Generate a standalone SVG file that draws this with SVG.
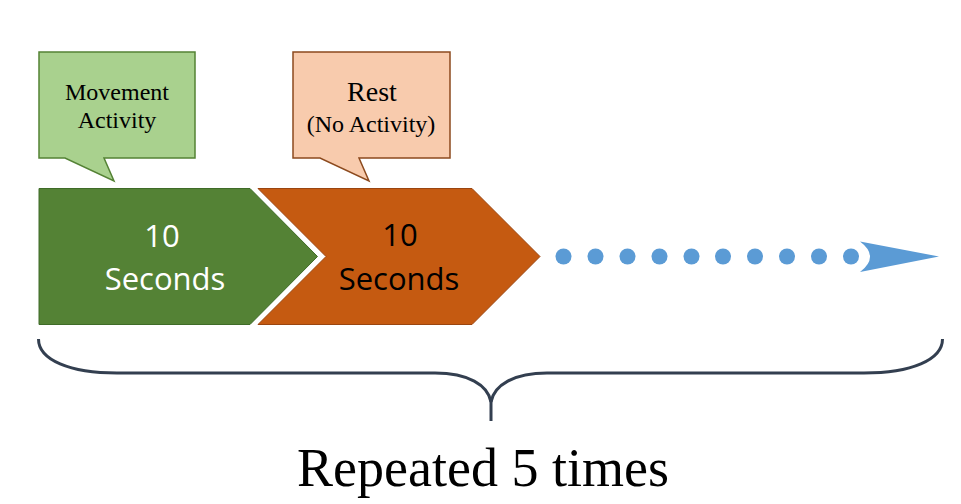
<svg xmlns="http://www.w3.org/2000/svg" width="961" height="504" viewBox="0 0 961 504">
  <style>
    .serif { font-family: "Liberation Serif", "Times New Roman", serif; fill: #000; text-anchor: middle; }
    .sans { font-family: "Open Sans", "Liberation Sans", sans-serif; font-size: 31px; text-anchor: middle; }
    .brace { fill: none; stroke: #333F50; stroke-width: 3; stroke-linecap: butt; }
    .dot { fill: #5B9BD5; }
  </style>
  <rect width="961" height="504" fill="#ffffff"/>

  <!-- callout: movement -->
  <g id="callout-movement">
    <path d="M39,52 H195 V158 H104 L114,181 L65,158 H39 Z" fill="#A9D18E" stroke="#548235" stroke-width="1.5"/>
    <text class="serif" x="117" y="100" font-size="24">Movement</text>
    <text class="serif" x="117" y="128" font-size="24">Activity</text>
  </g>

  <!-- callout: rest -->
  <g id="callout-rest">
    <path d="M293,52 H450 V158 H359 L369,181 L320,158 H293 Z" fill="#F8CBAD" stroke="#8C4A1E" stroke-width="1.5"/>
    <text class="serif" x="372" y="101" font-size="28">Rest</text>
    <text class="serif" x="371" y="132" font-size="24">(No Activity)</text>
  </g>

  <!-- chevron: movement interval -->
  <g id="chevron-movement">
    <path d="M39,188.5 H250 L317.5,256.5 L250,324.5 H39 Z" fill="#548235" stroke="#3F6B28" stroke-width="1"/>
    <text class="sans" x="162" y="247" fill="#ffffff">10</text>
    <text class="sans" x="165" y="290" fill="#ffffff">Seconds</text>
  </g>

  <!-- chevron: rest interval -->
  <g id="chevron-rest">
    <path d="M258,188.5 H472 L540,256.5 L472,324.5 H258 L326,256.5 Z" fill="#C55A11" stroke="#9A4510" stroke-width="1"/>
    <text class="sans" x="400" y="246" fill="#000000">10</text>
    <text class="sans" x="399" y="290" fill="#000000">Seconds</text>
  </g>

  <!-- dotted continuation arrow -->
  <g id="connectors">
    <circle class="dot" cx="563.5" cy="256.5" r="8"/>
    <circle class="dot" cx="595.5" cy="256.5" r="8"/>
    <circle class="dot" cx="627.5" cy="256.5" r="8"/>
    <circle class="dot" cx="659.5" cy="256.5" r="8"/>
    <circle class="dot" cx="691.5" cy="256.5" r="8"/>
    <circle class="dot" cx="723" cy="256.5" r="8"/>
    <circle class="dot" cx="755" cy="256.5" r="8"/>
    <circle class="dot" cx="787" cy="256.5" r="8"/>
    <circle class="dot" cx="819" cy="256.5" r="8"/>
    <circle class="dot" cx="851" cy="256.5" r="8"/>
    <path class="dot" d="M860,241.5 L939,256.5 L860,272 Q880,256.5 860,241.5 Z"/>
  </g>

  <!-- brace spanning the sequence -->
  <g id="brace">
    <path class="brace" d="M38.5,339 C38.5,360 70,373 117,373 L435,373 C468,373 488,385 491,402 C494,385 514,373 547,373 L864,373 C911,373 942.5,360 942.5,339"/>
    <path class="brace" d="M491,400 V421"/>
  </g>

  <g id="label-repeat">
    <text class="serif" x="483" y="486" font-size="54">Repeated 5 times</text>
  </g>
</svg>
